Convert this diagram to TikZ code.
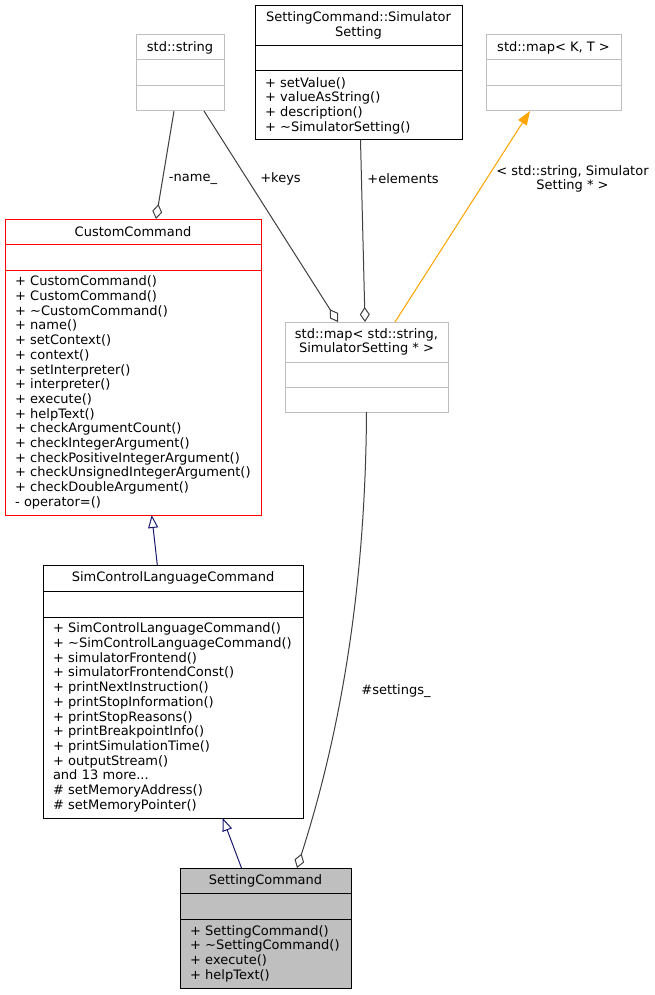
\documentclass[tikz,border=0pt]{standalone}
\usepackage{fontspec}
\setmainfont{DejaVu Sans}
\usetikzlibrary{arrows.meta,positioning}

\definecolor{edgegrey}{HTML}{404040}
\definecolor{boxgrey}{HTML}{BFBFBF}
\definecolor{inhblue}{HTML}{191970}
\definecolor{tmplorange}{HTML}{FFA500}
\newcommand{\umlfont}{\fontsize{13}{14.7}\selectfont}

\tikzset{
	compart/.style={draw, line width=1pt, inner sep=0pt, outer sep=0pt, font=\umlfont, align=center},
	memb/.style={compart, align=left, inner xsep=10pt},
	agg/.style={draw=edgegrey, line width=1pt, -{Diamond[open,length=15pt,width=10pt]}},
	inh/.style={draw=inhblue, line width=1pt, -{Triangle[open,length=13pt,width=10pt]}},
	tmpl/.style={draw=tmplorange, fill=tmplorange, line width=1pt, -{Triangle[length=14pt,width=10pt]}},
	elabel/.style={font=\umlfont, align=center, inner sep=0pt}
}

\begin{document}
\begin{tikzpicture}[x=1pt, y=-1pt]
	\path[use as bounding box, fill=white] (0,0) rectangle (655,995);

	% std::string
	\node[compart, draw=boxgrey, minimum width=88pt, minimum height=25pt, anchor=north] (str) at (180,35) {std::string};
	\node[compart, draw=boxgrey, minimum width=88pt, minimum height=26pt, below=0pt of str] (str-a) {};
	\node[compart, draw=boxgrey, minimum width=88pt, minimum height=25pt, below=0pt of str-a] (str-m) {};

	% SettingCommand::SimulatorSetting
	\node[compart, minimum width=207pt, minimum height=39.5pt, anchor=north] (sim) at (358.5,6) {SettingCommand::Simulator\\Setting};
	\node[compart, minimum width=207pt, minimum height=25.5pt, below=0pt of sim] (sim-a) {};
	\node[memb, text width=187pt, minimum height=69pt, below=0pt of sim-a] (sim-m) {+~setValue()\\+~valueAsString()\\+~description()\\+~\textasciitilde SimulatorSetting()};

	% std::map< K, T >
	\node[compart, draw=boxgrey, minimum width=135pt, minimum height=25pt, anchor=north] (mapkt) at (553.5,35) {std::map< K, T >};
	\node[compart, draw=boxgrey, minimum width=135pt, minimum height=26pt, below=0pt of mapkt] (mapkt-a) {};
	\node[compart, draw=boxgrey, minimum width=135pt, minimum height=25pt, below=0pt of mapkt-a] (mapkt-m) {};

	% CustomCommand
	\node[compart, draw=red, minimum width=256pt, minimum height=25pt, anchor=north] (cc) at (133,219) {CustomCommand};
	\node[compart, draw=red, minimum width=256pt, minimum height=26pt, below=0pt of cc] (cc-a) {};
	\node[memb, draw=red, text width=236pt, minimum height=245pt, below=0pt of cc-a] (cc-m) {+~CustomCommand()\\+~CustomCommand()\\+~\textasciitilde CustomCommand()\\+~name()\\+~setContext()\\+~context()\\+~setInterpreter()\\+~interpreter()\\+~execute()\\+~helpText()\\+~checkArgumentCount()\\+~checkIntegerArgument()\\+~checkPositiveIntegerArgument()\\+~checkUnsignedIntegerArgument()\\+~checkDoubleArgument()\\-~operator=()};

	% std::map< std::string, SimulatorSetting * >
	\node[compart, draw=boxgrey, minimum width=163pt, minimum height=40pt, anchor=north] (map) at (366.5,322) {std::map< std::string,\\SimulatorSetting * >};
	\node[compart, draw=boxgrey, minimum width=163pt, minimum height=25pt, below=0pt of map] (map-a) {};
	\node[compart, draw=boxgrey, minimum width=163pt, minimum height=25pt, below=0pt of map-a] (map-m) {};

	% SimControlLanguageCommand
	\node[compart, minimum width=260pt, minimum height=26.5pt, anchor=north] (sclc) at (173,565) {SimControlLanguageCommand};
	\node[compart, minimum width=260pt, minimum height=25.5pt, below=0pt of sclc] (sclc-a) {};
	\node[memb, text width=240pt, minimum height=201pt, below=0pt of sclc-a] (sclc-m) {+~SimControlLanguageCommand()\\+~\textasciitilde SimControlLanguageCommand()\\+~simulatorFrontend()\\+~simulatorFrontendConst()\\+~printNextInstruction()\\+~printStopInformation()\\+~printStopReasons()\\+~printBreakpointInfo()\\+~printSimulationTime()\\+~outputStream()\\and 13 more...\\\#~setMemoryAddress()\\\#~setMemoryPointer()};

	% SettingCommand
	\node[compart, fill=boxgrey, minimum width=171pt, minimum height=25.5pt, anchor=north] (sc) at (265.5,868) {SettingCommand};
	\node[compart, fill=boxgrey, minimum width=171pt, minimum height=25.5pt, below=0pt of sc] (sc-a) {};
	\node[memb, fill=boxgrey, text width=151pt, minimum height=69pt, below=0pt of sc-a] (sc-m) {+~SettingCommand()\\+~\textasciitilde SettingCommand()\\+~execute()\\+~helpText()};

	% connectors
	\draw[agg] ([xshift=-6pt]str-m.south) -- ([xshift=23pt]cc.north);
	\draw[agg] ([xshift=24pt]str-m.south) -- ([xshift=-28.5pt]map.north);
	\draw[agg] ([xshift=2pt]sim-m.south) -- ([xshift=-1.5pt]map.north);
	\draw[tmpl] ([xshift=28.5pt]map.north) -- ([xshift=-23.5pt]mapkt-m.south);
	\draw[inh] ([xshift=-15.7pt]sclc.north) -- ([xshift=18.7pt]cc-m.south);
	\draw[inh] ([xshift=-24pt]sc.north) -- ([xshift=49.7pt]sclc-m.south);
	\draw[agg] (map-m.south) .. controls +(-1,170) and +(45,-140) .. ([xshift=31.5pt]sc.north);

	\node[elabel] (l-name) at (193,179) {-name\_};
	\node[elabel] (l-keys) at (280.5,179) {+keys};
	\node[elabel] (l-elem) at (403,179) {+elements};
	\node[elabel] (l-tmpl) at (572.5,179) {< std::string, Simulator\\Setting * >};
	\node[elabel] (l-set) at (396,691) {\#settings\_};
\end{tikzpicture}
\end{document}
